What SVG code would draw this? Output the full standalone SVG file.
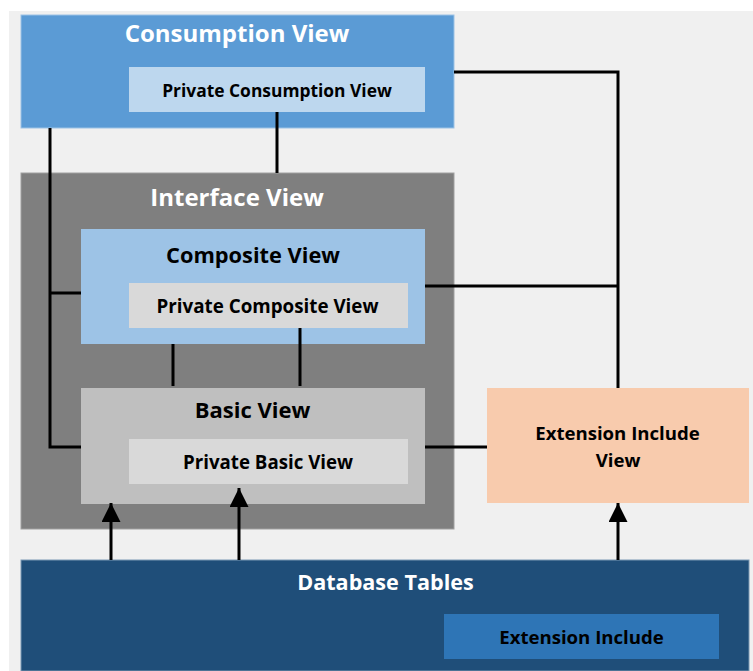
<svg xmlns="http://www.w3.org/2000/svg" width="753" height="671" viewBox="0 0 753 671">
<defs>
<style>
text{font-family:"Open Sans","Liberation Sans",sans-serif;font-weight:bold;text-anchor:middle}
.w{fill:#ffffff}
.k{fill:#000000}
.ln{stroke:#000;stroke-width:3;fill:none}
.ar{stroke:#000;stroke-width:3;fill:none;marker-end:url(#ah)}
</style>
<marker id="ah" viewBox="0 0 19 19" refX="19" refY="9.5" markerWidth="19" markerHeight="19" markerUnits="userSpaceOnUse" orient="auto">
<path d="M0,0 L19,9.5 L0,19 Z" fill="#000"/>
</marker>
</defs>
<rect x="0" y="0" width="753" height="671" fill="#ffffff"/>
<rect x="9" y="11" width="744" height="660" fill="#f0f0f0"/>

<g id="consumption">
<rect x="21" y="15" width="433" height="113" fill="#5b9bd5" stroke="#9cc2e5" stroke-width="1"/>
<text class="w" x="237" y="42" font-size="24">Consumption View</text>
</g>
<g id="private-consumption">
<rect x="129" y="67" width="296" height="45" fill="#bdd7ee"/>
<text class="k" x="277" y="97" font-size="17.4">Private Consumption View</text>
</g>

<g id="interface">
<rect x="21" y="173" width="433" height="356" fill="#7f7f7f" stroke="#a0a0a0" stroke-width="1"/>
<text class="w" x="237" y="206" font-size="24">Interface View</text>
</g>
<g id="composite">
<rect x="81" y="229" width="344" height="115" fill="#9dc3e6"/>
<text class="k" x="253" y="263" font-size="21.8">Composite View</text>
</g>
<g id="private-composite">
<rect x="129" y="283" width="279" height="45" fill="#d9d9d9"/>
<text class="k" x="267.5" y="313" font-size="18.8">Private Composite View</text>
</g>
<g id="basic">
<rect x="81" y="388" width="344" height="116" fill="#bfbfbf"/>
<text class="k" x="252.5" y="418" font-size="22">Basic View</text>
</g>
<g id="private-basic">
<rect x="129" y="439" width="279" height="45" fill="#d9d9d9"/>
<text class="k" x="268" y="469" font-size="18.7">Private Basic View</text>
</g>

<g id="extension-include-view">
<rect x="487" y="388" width="262" height="115" fill="#f8cbad"/>
<text class="k" x="617.5" y="440" font-size="18.6">Extension Include</text>
<text class="k" x="618" y="467" font-size="18.6">View</text>
</g>

<g id="database-tables">
<rect x="21" y="560" width="728" height="111" fill="#1f4e79" stroke="#7a98b3" stroke-width="1"/>
<text class="w" x="385.5" y="590" font-size="21.6">Database Tables</text>
</g>
<g id="extension-include">
<rect x="444" y="614" width="275" height="45" fill="#2e75b6"/>
<text class="k" x="581.5" y="644" font-size="18.6">Extension Include</text>
</g>

<g id="connectors">
<path class="ln" d="M50,128 V447 H81"/>
<path class="ln" d="M50,293 H81"/>
<path class="ln" d="M277,112 V173"/>
<path class="ln" d="M173,344 V386"/>
<path class="ln" d="M300,328 V386"/>
<path class="ln" d="M425,447 H487"/>
<path class="ln" d="M454,72 H618 V388"/>
<path class="ln" d="M425,286 H618"/>
<path class="ar" d="M111,560 V503"/>
<path class="ar" d="M239,560 V488"/>
<path class="ar" d="M618,560 V503"/>
</g>
</svg>
